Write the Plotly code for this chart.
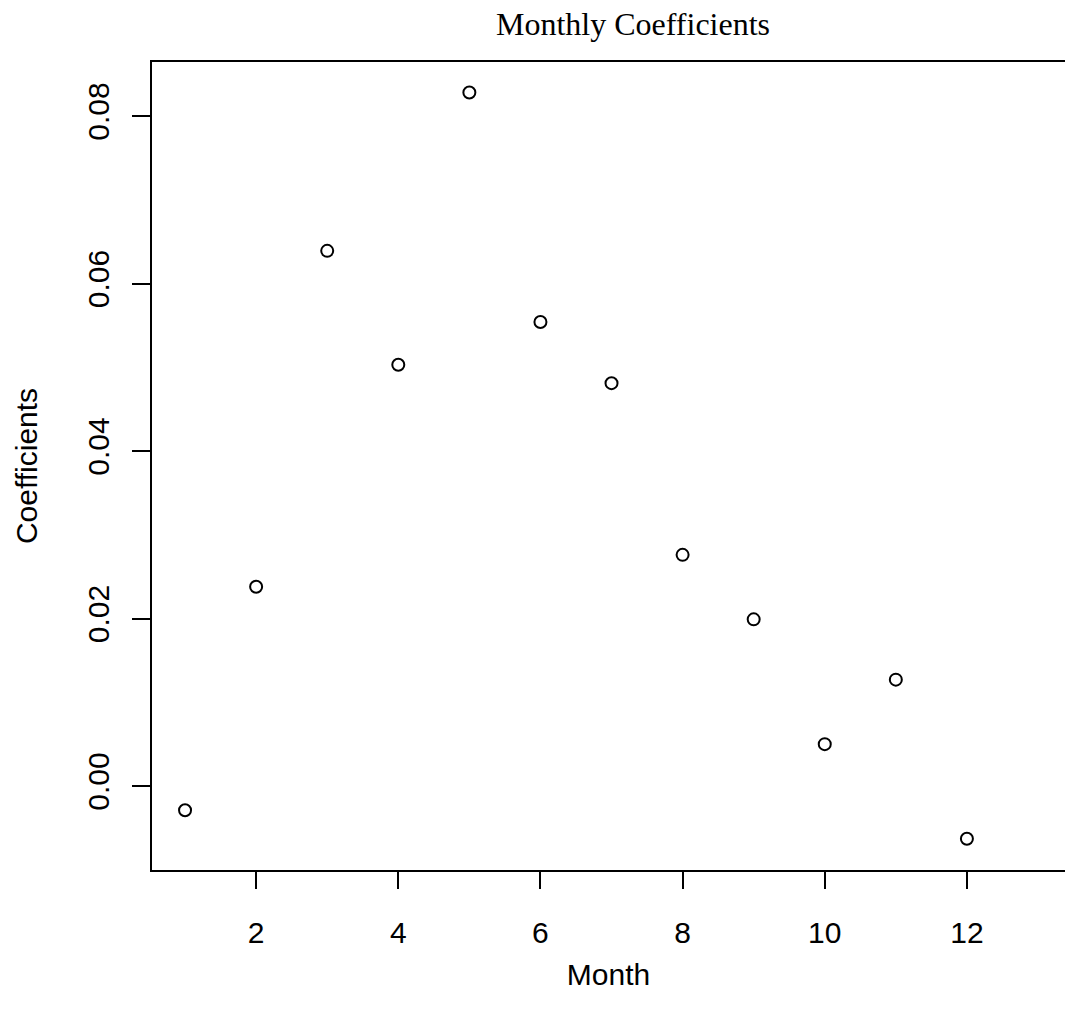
import plotly.graph_objects as go

months = [1, 2, 3, 4, 5, 6, 7, 8, 9, 10, 11, 12]
coefficients = [-0.0029, 0.0238, 0.0639, 0.0503, 0.0828, 0.0554, 0.0481, 0.0276, 0.0199, 0.0050, 0.0127, -0.0063]
x_ticks = [2, 4, 6, 8, 10, 12]
y_ticks = [0.00, 0.02, 0.04, 0.06, 0.08]
y_tick_labels = ["0.00", "0.02", "0.04", "0.06", "0.08"]

fig = go.Figure()
fig.add_trace(go.Scatter(
    x=months, y=coefficients, mode="markers",
    marker=dict(symbol="circle-open", size=12, color="#000000", line=dict(width=2)),
    showlegend=False, hoverinfo="x+y",
))

axis_font = dict(family="Liberation Sans, Arial, sans-serif", size=30, color="#000000")

fig.update_layout(
    width=1065, height=1023,
    margin=dict(l=152, r=0, t=62, b=153),
    plot_bgcolor="white", paper_bgcolor="white",
    title=dict(text="Monthly Coefficients", x=633/1065, xanchor="center", y=1-24/1023, yanchor="middle",
               font=dict(family="Liberation Serif, Times New Roman, serif", size=32, color="#000000")),
    xaxis=dict(range=[0.535, 13.38], tickvals=x_ticks, ticktext=[str(v) for v in x_ticks],
               showgrid=False, zeroline=False, showline=True, mirror=True, linecolor="#000000", linewidth=2,
               ticks="outside", ticklen=17, tickwidth=1.5, tickcolor="#000000",
               tickfont=axis_font, ticklabelstandoff=18,
               title=dict(text="Month", font=axis_font, standoff=16)),
    yaxis=dict(range=[-0.01003, 0.08645], tickvals=y_ticks, ticktext=y_tick_labels,
               showgrid=False, zeroline=False, showline=True, mirror=False, linecolor="#000000", linewidth=2,
               ticks="outside", ticklen=18, tickwidth=1.5, tickcolor="#000000", tickangle=-90,
               tickfont=axis_font, ticklabelstandoff=11,
               title=dict(text="Coefficients", font=axis_font, standoff=36)),
)

fig.write_html("out.html")
